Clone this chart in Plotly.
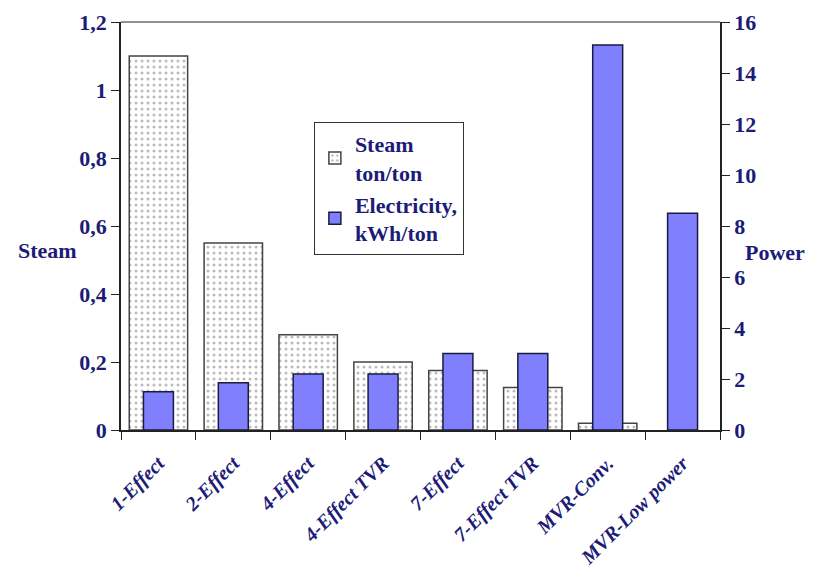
import plotly.graph_objects as go

categories = ["1-Effect", "2-Effect", "4-Effect", "4-Effect TVR", "7-Effect",
              "7-Effect TVR", "MVR-Conv.", "MVR-Low power"]
steam = [1.10, 0.55, 0.28, 0.20, 0.175, 0.125, 0.02, None]
electricity = [1.5, 1.85, 2.2, 2.2, 3.0, 3.0, 15.1, 8.5]

left_ticks = [0, 0.2, 0.4, 0.6, 0.8, 1.0, 1.2]
left_labels = ["0", "0,2", "0,4", "0,6", "0,8", "1", "1,2"]
right_ticks = [0, 2, 4, 6, 8, 10, 12, 14, 16]

navy = "#1c1c78"
serif = "Liberation Serif"

fig = go.Figure()
fig.add_trace(go.Bar(
    x=categories, y=steam, name="Steam<br>ton/ton", width=0.78,
    marker=dict(color="white", line=dict(color="#444444", width=1.5),
                pattern=dict(shape=".", fgcolor="#777777", bgcolor="white",
                             size=6, solidity=0.2)),
    yaxis="y"))
fig.add_trace(go.Bar(
    x=categories, y=electricity, name="Electricity,<br>kWh/ton", width=0.4,
    marker=dict(color="#8080ff", line=dict(color="#1a1a40", width=1.5)),
    yaxis="y2"))

fig.update_layout(
    width=813, height=576,
    margin=dict(l=121, r=93, t=22, b=146),
    paper_bgcolor="white", plot_bgcolor="white",
    barmode="overlay",
    showlegend=True,
    legend=dict(x=0.322, y=0.755, xanchor="left", yanchor="top",
                bordercolor="#333333", borderwidth=1, bgcolor="white",
                font=dict(family=serif, size=22, color=navy, weight="bold"),
                itemwidth=30, tracegroupgap=2),
    xaxis=dict(type="category", tickson="boundaries", ticks="outside",
               ticklen=8, tickcolor="#222", showline=True, linecolor="#222",
               linewidth=1.5, tickangle=-45, mirror=False, automargin=False,
               ticklabelstandoff=12,
               tickfont=dict(family=serif, size=20, color=navy, weight="bold",
                             style="italic"),
               showgrid=False),
    yaxis=dict(range=[0, 1.2], tickvals=left_ticks, ticktext=left_labels,
               ticks="outside", ticklen=8, tickcolor="#222", showline=True,
               linecolor="#222", linewidth=1.5, showgrid=False, zeroline=False,
               automargin=False,
               tickfont=dict(family=serif, size=22, color=navy, weight="bold")),
    yaxis2=dict(range=[0, 16], tickvals=right_ticks, overlaying="y", side="right",
                ticks="outside", ticklen=8, tickcolor="#222", showline=True,
                linecolor="#222", linewidth=1.5, showgrid=False, zeroline=False,
                automargin=False,
                tickfont=dict(family=serif, size=22, color=navy, weight="bold")),
    shapes=[dict(type="line", xref="paper", yref="paper", x0=0, x1=1, y0=1, y1=1,
                 line=dict(color="#222", width=1.2))],
    annotations=[
        dict(text="Steam", xref="paper", yref="paper", x=-0.122, y=0.439,
             showarrow=False, xanchor="center",
             font=dict(family=serif, size=22, color=navy, weight="bold")),
        dict(text="Power", xref="paper", yref="paper", x=1.092, y=0.436,
             showarrow=False, xanchor="center",
             font=dict(family=serif, size=22, color=navy, weight="bold")),
    ],
)

fig.write_html("out.html")
